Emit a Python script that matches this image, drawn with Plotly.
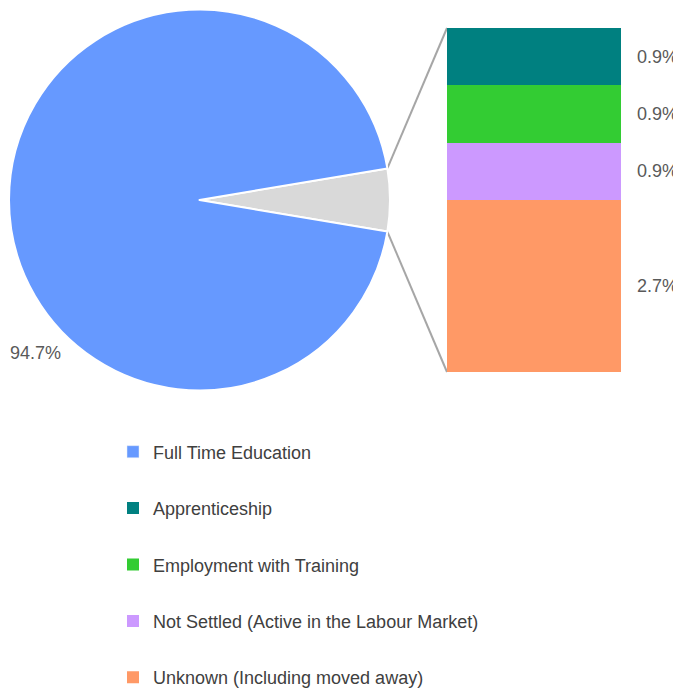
import math
import plotly.graph_objects as go

W, H = 681, 691
OFF = 8  # page body margin

# ---- data ----
categories = ["Full Time Education", "Apprenticeship", "Employment with Training",
              "Not Settled (Active in the Labour Market)", "Unknown (Including moved away)"]
colors = ["#6699FF", "#008080", "#33CC33", "#CC99FF", "#FF9966"]
main_value = 94.7
other_values = [0.9, 0.9, 0.9, 2.7]   # Apprenticeship, Employment, Not Settled, Unknown
other_total = 5.3
other_color = "#D9D9D9"
label_color = "#595959"
legend_color = "#404040"
FONT = "Liberation Sans, Arial, sans-serif"

# ---- geometry (screen pixels) ----
pie_l, pie_r, pie_t, pie_b = 9, 390, 9.5, 390.5
bar_l, bar_r, bar_t, bar_b = 447, 621, 28, 372

def px(x):
    return (x - OFF) / W

def py(y):
    return 1 - (y - OFF) / H

fig = go.Figure()

# pie: "other" slice first, centred on 3 o'clock, clockwise
frac = other_total / (other_total + main_value)
half_deg = frac * 360 / 2
fig.add_trace(go.Pie(
    labels=["Other", categories[0]],
    values=[other_total, main_value],
    marker=dict(colors=[other_color, colors[0]], line=dict(color="white", width=2)),
    sort=False, direction="clockwise", rotation=90 - half_deg,
    textinfo="none", hoverinfo="skip", showlegend=False,
    domain=dict(x=[px(pie_l), px(pie_r)], y=[py(pie_b), py(pie_t)]),
))

# legend-only entry for the main category
fig.add_trace(go.Bar(x=[0], y=[0], name=categories[0], marker_color=colors[0],
                     legendgroup="g0", hoverinfo="skip"))

# stacked bar (y reversed so first trace is on top)
cum = 0
for i, (name, val, col) in enumerate(zip(categories[1:], other_values, colors[1:])):
    fig.add_trace(go.Bar(x=[0], y=[val], name=name, marker=dict(color=col, line=dict(width=0)),
                         width=1, legendgroup=f"g{i+1}", hoverinfo="skip"))
    mid = cum + val / 2
    fig.add_annotation(x=0.5, y=mid, xref="x", yref="y", text=f"{val:.1f}%",
                       xanchor="left", yanchor="middle", xshift=14, showarrow=False,
                       font=dict(family=FONT, size=18, color=label_color))
    cum += val

bar_total = sum(other_values)

# main slice label
fig.add_annotation(x=px(8), y=py(353), xref="paper", yref="paper", text=f"{main_value:.1f}%",
                   xanchor="left", yanchor="middle", showarrow=False,
                   font=dict(family=FONT, size=18, color=label_color))

# connector lines from slice edge to bar corners
cx, cy = (pie_l + pie_r) / 2, (pie_t + pie_b) / 2
r = (pie_r - pie_l) / 2
th = math.radians(half_deg)
p_top = (cx + r * math.cos(th), cy - r * math.sin(th))
p_bot = (cx + r * math.cos(th), cy + r * math.sin(th))
for (x0, y0), (x1, y1) in [(p_top, (bar_l, bar_t)), (p_bot, (bar_l, bar_b))]:
    fig.add_shape(type="line", xref="paper", yref="paper",
                  x0=px(x0), y0=py(y0), x1=px(x1), y1=py(y1),
                  line=dict(color="#A6A6A6", width=2), layer="below")

fig.update_layout(
    width=W, height=H, autosize=False,
    margin=dict(l=0, r=0, t=0, b=0, autoexpand=False),
    paper_bgcolor="white", plot_bgcolor="white",
    barmode="stack", bargap=0,
    xaxis=dict(domain=[px(bar_l), px(bar_r)], range=[-0.5, 0.5], visible=False, fixedrange=True),
    yaxis=dict(domain=[py(bar_b), py(bar_t)], range=[bar_total, 0], visible=False, fixedrange=True),
    showlegend=True,
    legend=dict(x=px(113), y=py(433.5), xanchor="left", yanchor="top",
                orientation="v", traceorder="grouped", tracegroupgap=30,
                font=dict(family=FONT, size=18, color=legend_color),
                bgcolor="rgba(0,0,0,0)"),
    font=dict(family=FONT),
)

fig.write_html("out.html")
